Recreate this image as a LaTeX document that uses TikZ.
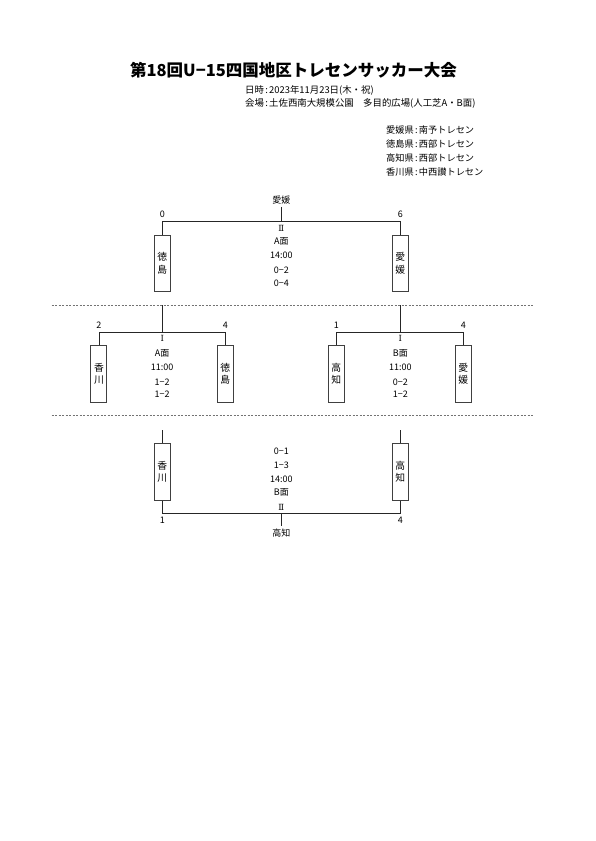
\documentclass[tikz,border=0pt]{standalone}
\usepackage{fontspec}
\setmainfont{Noto Sans CJK JP}
\newfontfamily\romfont{DejaVu Serif}
\newcommand{\cln}{\hspace{1.3pt}:\hspace{1.3pt}}
\begin{document}
\begin{tikzpicture}[x=1pt,y=-1pt,
  team/.style={draw=black!75, line width=0.9pt, minimum width=16pt, minimum height=56.5pt, inner sep=0pt, font=\fontsize{9.8}{12.5}\selectfont, align=center},
  txt/.style={font=\fontsize{9}{11}\selectfont, inner sep=0pt},
  info/.style={font=\fontsize{9.4}{11}\selectfont, inner sep=0pt, anchor=west},
  rom/.style={font=\fontsize{8.5}{10}\selectfont\romfont, inner sep=0pt},
  ln/.style={line width=0.8pt, black!85},
  sepline/.style={black!55, line width=1pt, dash pattern=on 2pt off 1.5pt}]
\useasboundingbox (0,0) rectangle (595,841);

% title and info
\node[font=\fontsize{16.5}{20}\selectfont\bfseries, inner sep=0pt] (title) at (293.5,70) {第18回U−15四国地区トレセンサッカー大会};
\node[info] (date) at (245,90) {日時\cln 2023年11月23日(木・祝)};
\node[info] (venue) at (245,103) {会場\cln 土佐西南大規模公園　多目的広場(人工芝A・B面)};
\node[info, font=\fontsize{9.2}{11}\selectfont] (lg1) at (386,130) {愛媛県\cln 南予トレセン};
\node[info, font=\fontsize{9.2}{11}\selectfont] (lg2) at (386,144) {徳島県\cln 西部トレセン};
\node[info, font=\fontsize{9.2}{11}\selectfont] (lg3) at (386,158) {高知県\cln 西部トレセン};
\node[info, font=\fontsize{9.2}{11}\selectfont] (lg4) at (386,172) {香川県\cln 中西讃トレセン};

% separators
\coordinate (s1a) at (51.7,305); \coordinate (s1b) at (534,305);
\coordinate (s2a) at (51.7,415.7); \coordinate (s2b) at (534,415.7);
\draw[sepline] (s1a) -- (s1b);
\draw[sepline] (s2a) -- (s2b);

% ===== top match =====
\node[team] (t1) at (162.3,263.2) {徳\\島};
\node[team] (t2) at (400.3,263.2) {愛\\媛};
\coordinate (tj) at (281.3,221);
\node[txt] (tw) at (281.3,200) {愛媛};
\draw[ln] (t1.north) -- (t1.north |- tj) -- (t2.north |- tj) -- (t2.north);
\draw[ln, shorten <=2.5pt] (tw.south) -- (tj);
\node[txt] (ts1) at (162.3,214) {0};
\node[txt] (ts2) at (400.3,214) {6};
\node[rom] (tc1) at (281.3,228) {Ⅱ};
\node[txt] (tc2) at (281.3,241.7) {A面};
\node[txt] (tc3) at (281.3,255.7) {14:00};
\node[txt] (tc4) at (281.3,270) {0−2};
\node[txt] (tc5) at (281.3,283.5) {0−4};

% ===== middle left =====
\node[team] (a1) at (98.9,373.9) {香\\川};
\node[team] (a2) at (225.3,373.9) {徳\\島};
\coordinate (ajt) at (162.2,305);
\coordinate (aj) at (162.2,332.3);
\draw[ln] (a1.north) -- (a1.north |- aj) -- (a2.north |- aj) -- (a2.north);
\draw[ln] (ajt) -- (aj);
\node[txt] (as1) at (98.9,325.5) {2};
\node[txt] (as2) at (225.3,325.5) {4};
\node[rom] (ac1) at (162.2,338.8) {Ⅰ};
\node[txt] (ac2) at (162.2,353) {A面};
\node[txt] (ac3) at (162.2,367.7) {11:00};
\node[txt] (ac4) at (162.2,382) {1−2};
\node[txt] (ac5) at (162.2,394.5) {1−2};

% ===== middle right =====
\node[team] (b1) at (336.3,373.9) {高\\知};
\node[team] (b2) at (463.3,373.9) {愛\\媛};
\coordinate (bjt) at (400.3,305);
\coordinate (bj) at (400.3,332.3);
\draw[ln] (b1.north) -- (b1.north |- bj) -- (b2.north |- bj) -- (b2.north);
\draw[ln] (bjt) -- (bj);
\node[txt] (bs1) at (336.3,325.5) {1};
\node[txt] (bs2) at (463.3,325.5) {4};
\node[rom] (bc1) at (400.3,338.8) {Ⅰ};
\node[txt] (bc2) at (400.3,353) {B面};
\node[txt] (bc3) at (400.3,367.7) {11:00};
\node[txt] (bc4) at (400.3,382) {0−2};
\node[txt] (bc5) at (400.3,394.5) {1−2};

% ===== bottom match =====
\node[team, minimum height=57pt] (c1) at (162.3,471.7) {香\\川};
\node[team, minimum height=57pt] (c2) at (400.3,471.7) {高\\知};
\coordinate (c1t) at (162.3,430);
\coordinate (c2t) at (400.3,430);
\draw[ln] (c1t) -- (c1.north);
\draw[ln] (c2t) -- (c2.north);
\coordinate (cj) at (281.3,513.3);
\node[txt] (cw) at (281.3,533.3) {高知};
\draw[ln] (c1.south) -- (c1.south |- cj) -- (c2.south |- cj) -- (c2.south);
\draw[ln, shorten >=2.5pt] (cj) -- (cw.north);
\node[txt] (cs1) at (162.3,519.8) {1};
\node[txt] (cs2) at (400.3,519.8) {4};
\node[txt] (cc1) at (281.3,451.7) {0−1};
\node[txt] (cc2) at (281.3,465) {1−3};
\node[txt] (cc3) at (281.3,479) {14:00};
\node[txt] (cc4) at (281.3,492.7) {B面};
\node[rom] (cc5) at (281.3,507) {Ⅱ};
\end{tikzpicture}
\end{document}
